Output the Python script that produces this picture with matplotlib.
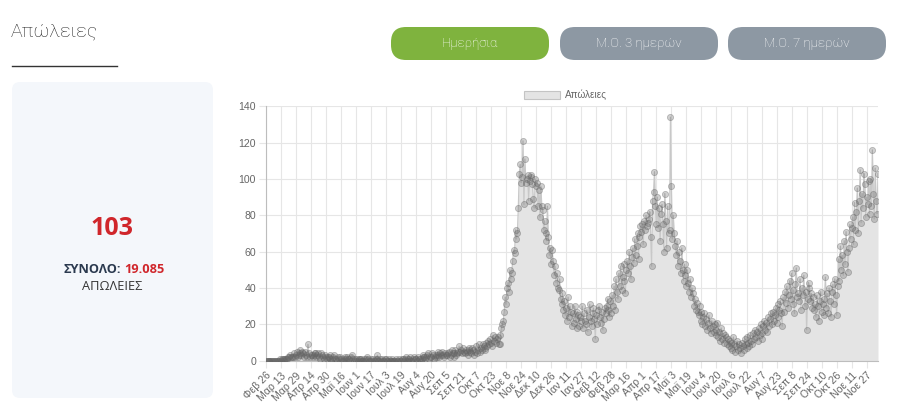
import pandas as pd
import matplotlib
matplotlib.use("Agg")
import matplotlib.pyplot as plt
from matplotlib.patches import FancyBboxPatch, Patch

# daily deaths, Feb 26 2020 -> Dec 9 2021 (monthly chunks)
d2020_feb = [0, 0, 0, 0]
d2020_mar = [0, 0, 0, 0, 0, 0, 0, 0, 0, 0, 0, 1, 0, 1, 1, 1, 0, 1, 1, 1, 2, 2, 3, 2, 2, 2, 4, 2, 3, 5, 2]
d2020_apr = [3, 6, 4, 3, 5, 4, 2, 5, 3, 2, 9, 4, 2, 3, 3, 2, 3, 4, 4, 2, 3, 4, 2, 1, 4, 3, 2, 1, 3, 2]
d2020_may = [1, 2, 2, 3, 1, 0, 1, 2, 3, 1, 1, 0, 2, 1, 2, 1, 0, 0, 1, 2, 1, 0, 2, 1, 1, 0, 2, 3, 1, 0, 1]
d2020_jun = [0, 1, 0, 1, 1, 0, 1, 0, 0, 1, 0, 1, 2, 1, 0, 0, 1, 0, 1, 0, 0, 1, 1, 3, 0, 0, 1, 0, 1, 0]
d2020_jul = [0, 1, 1, 0, 0, 1, 0, 0, 0, 1, 0, 0, 0, 1, 0, 0, 1, 0, 0, 1, 1, 0, 1, 2, 0, 1, 0, 1, 2, 0, 0]
d2020_aug = [1, 2, 1, 1, 0, 2, 1, 1, 0, 1, 3, 2, 2, 1, 2, 3, 4, 1, 2, 2, 4, 3, 1, 2, 3, 2, 5, 3, 2, 4, 3]
d2020_sep = [5, 3, 2, 4, 3, 3, 4, 5, 2, 3, 6, 4, 2, 4, 6, 3, 4, 5, 8, 5, 6, 4, 7, 5, 4, 6, 5, 3, 6, 7]
d2020_oct = [5, 4, 7, 6, 3, 5, 8, 4, 6, 9, 5, 7, 6, 9, 8, 7, 6, 10, 8, 11, 9, 12, 10, 8, 14, 11, 13, 10, 12, 13, 9]
d2020_nov = [9, 14, 18, 20, 22, 27, 35, 31, 40, 43, 38, 50, 45, 48, 55, 61, 59, 72, 67, 70,
             84, 103, 108, 98, 101, 121, 86, 111, 98, 100]
d2020_dec = [102, 88, 99, 101, 102, 97, 89, 84, 100, 96, 98, 85, 94, 79, 96, 85, 83, 72, 77, 70,
             66, 85, 68, 58, 62, 53, 61, 55, 47, 52, 43]
d2021_jan = [48, 40, 39, 45, 34, 31, 37, 28, 33, 25, 29, 22, 35, 24, 30, 27, 19, 26, 21, 30,
             23, 18, 27, 25, 19, 24, 22, 30, 18, 26, 22]
d2021_feb = [20, 28, 16, 24, 31, 22, 19, 26, 29, 23, 12, 25, 20, 28, 30, 24, 21, 27, 17, 23,
             29, 26, 30, 34, 28, 24, 33, 26]
d2021_mar = [36, 30, 41, 28, 45, 38, 34, 48, 41, 52, 39, 46, 53, 44, 37, 50, 55, 48, 60, 52,
             45, 57, 62, 54, 67, 58, 63, 70, 56, 68, 74]
d2021_apr = [71, 75, 64, 77, 72, 80, 74, 76, 78, 82, 68, 52, 88, 93, 104, 85, 75, 90, 73, 84,
             66, 81, 86, 75, 60, 92, 77, 62, 85, 70]
d2021_may = [72, 134, 96, 67, 80, 70, 63, 58, 66, 52, 60, 55, 48, 62, 50, 44, 53, 47, 41, 50,
             43, 38, 45, 35, 40, 37, 30, 34, 28, 32, 27]
d2021_jun = [25, 30, 22, 27, 20, 24, 26, 19, 23, 17, 21, 25, 18, 15, 22, 19, 16, 20, 14, 17,
             21, 13, 16, 11, 18, 12, 15, 10, 14, 13]
d2021_jul = [9, 12, 8, 11, 7, 10, 6, 13, 9, 5, 8, 11, 6, 9, 7, 4, 10, 8, 6, 12,
             9, 7, 13, 10, 8, 14, 11, 9, 15, 12, 17]
d2021_aug = [13, 16, 11, 18, 14, 20, 15, 12, 19, 22, 17, 21, 16, 24, 19, 23, 26, 20, 27, 22,
             25, 29, 21, 31, 24, 28, 33, 26, 19, 35, 27]
d2021_sep = [38, 32, 41, 29, 36, 44, 34, 48, 31, 39, 26, 42, 51, 35, 37, 33, 45, 28, 40, 36,
             47, 30, 38, 17, 34, 43, 40, 33, 37, 29]
d2021_oct = [35, 28, 31, 24, 36, 30, 22, 33, 38, 27, 31, 25, 34, 46, 29, 37, 26, 40, 33, 24,
             38, 42, 31, 45, 36, 25, 41, 56, 44, 63, 50]
d2021_nov = [58, 47, 66, 53, 71, 60, 49, 62, 75, 67, 73, 79, 64, 87, 72, 82, 95, 70, 88, 105,
             76, 92, 84, 103, 97, 79, 90, 86, 99, 81]
d2021_dec = [100, 85, 116, 92, 78, 106, 88, 81, 103]

deaths = (d2020_feb + d2020_mar + d2020_apr + d2020_may + d2020_jun + d2020_jul + d2020_aug
          + d2020_sep + d2020_oct + d2020_nov + d2020_dec + d2021_jan + d2021_feb + d2021_mar
          + d2021_apr + d2021_may + d2021_jun + d2021_jul + d2021_aug + d2021_sep + d2021_oct
          + d2021_nov + d2021_dec)

dates = pd.date_range("2020-02-26", periods=len(deaths), freq="D")
greek_months = ["Ιαν", "Φεβ", "Μαρ", "Απρ", "Μαϊ", "Ιουν", "Ιουλ", "Αυγ", "Σεπ", "Οκτ", "Νοε", "Δεκ"]
labels = [f"{greek_months[d.month - 1]} {d.day}" for d in dates]

last_value = "103"
total_value = "19.085"
buttons = ["Ημερήσια", "Μ.Ο. 3 ημερών", "Μ.Ο. 7 ημερών"]

W, H = 900, 419
fig = plt.figure(figsize=(W / 100, H / 100), dpi=100)

# background layer in pixel coordinates
bg = fig.add_axes([0, 0, 1, 1], zorder=0)
bg.set_xlim(0, W)
bg.set_ylim(H, 0)
bg.axis("off")

bg.text(11, 32, "Απώλειες", fontsize=14, family="Roboto", fontweight="light",
        color="#222222", va="center", ha="left")
bg.plot([12, 117], [66, 66], color="#333333", lw=1)

btn_x = [391, 560, 728]
btn_col = ["#7fb33e", "#8d98a3", "#8d98a3"]
for bx, txt, col in zip(btn_x, buttons, btn_col):
    bg.add_patch(FancyBboxPatch((bx, 27), 158, 33,
                                boxstyle="round,pad=0,rounding_size=15",
                                fc=col, ec="none"))
    bg.text(bx + 79, 44, txt, fontsize=9.5, family="Roboto", fontweight="light",
            color="white", ha="center", va="center")

bg.add_patch(FancyBboxPatch((12, 82), 201, 316, boxstyle="round,pad=0,rounding_size=8",
                            fc="#f4f7fb", ec="none"))
bg.text(112, 228, last_value, fontsize=18, family="Open Sans", fontweight="bold",
        color="#d0262b", ha="center", va="center")
bg.text(121, 269, "ΣΥΝΟΛΟ:", fontsize=9.2, family="Open Sans", fontweight="bold",
        color="#2b3a4f", ha="right", va="center")
bg.text(124, 269, total_value, fontsize=9.2, family="Open Sans", fontweight="bold",
        color="#d0262b", ha="left", va="center")
bg.text(112, 286, "ΑΠΩΛΕΙΕΣ", fontsize=9.2, family="Open Sans",
        color="#333333", ha="center", va="center")

# chart
left, right, top, bottom = 265.7, 878, 106.3, 360.7
ax = fig.add_axes([left / W, 1 - bottom / H, (right - left) / W, (bottom - top) / H], zorder=1)
ax.patch.set_alpha(0)
x = list(range(len(deaths)))
ax.fill_between(x, deaths, 0, color="#e4e4e4", lw=0, zorder=1)
ax.plot(x, deaths, color="#c8c8c8", lw=0.9, zorder=2)
ax.plot(x, deaths, ls="none", marker="o", ms=4.4, mfc=(0.4, 0.4, 0.4, 0.3),
        mec=(0.4, 0.4, 0.4, 0.42), mew=0.6, zorder=3)

ax.set_xlim(0, len(deaths) - 1)
ax.set_ylim(0, 140)
ax.set_yticks(range(0, 141, 20))
tick_idx = list(range(0, len(deaths), 16))
ax.set_xticks(tick_idx)
ax.set_xticklabels([labels[i] for i in tick_idx], rotation=45, ha="right",
                   rotation_mode="anchor", family="Liberation Sans", fontsize=7.6, color="#666666")
for t in ax.get_yticklabels():
    t.set_family("Liberation Sans")
    t.set_fontsize(7.6)
    t.set_color("#666666")
ax.grid(True, color="#e6e6e6", lw=0.8)
ax.set_axisbelow(True)
ax.tick_params(length=5, color="#e6e6e6", pad=2)
for s in ["top", "right"]:
    ax.spines[s].set_visible(False)
ax.spines["left"].set_color("#bdbdbd")
ax.spines["bottom"].set_color("#bdbdbd")

ax.legend(handles=[Patch(fc="#e4e4e4", ec="#c4c4c4", lw=0.8, label="Απώλειες")],
          loc="center", bbox_to_anchor=(0.49, 1.044), frameon=False, handlelength=3.6,
          handleheight=0.9, handletextpad=0.5,
          prop={"family": "Liberation Sans", "size": 7.2}, labelcolor="#666666")

fig.savefig("out.png", dpi=100)
